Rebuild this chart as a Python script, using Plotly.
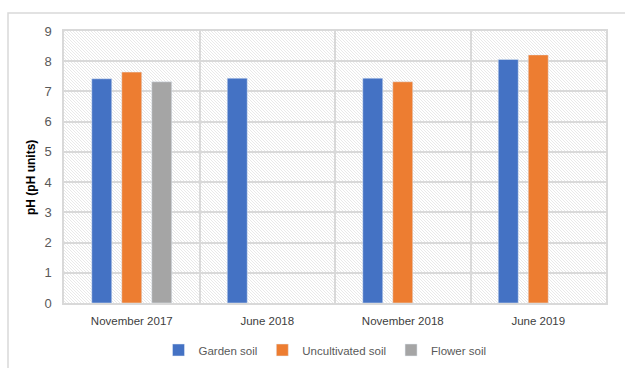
import base64
import plotly.graph_objects as go

categories = ["November 2017", "June 2018", "November 2018", "June 2019"]
garden_soil = [7.42, 7.44, 7.44, 8.06]
uncultivated_soil = [7.64, None, 7.32, 8.21]
flower_soil = [7.32, None, None, None]
y_ticks = [0, 1, 2, 3, 4, 5, 6, 7, 8, 9]

FONT = "Liberation Sans, Arial, sans-serif"
TXT = "#595959"
GRID = "#d9d9d9"

W, H = 625, 368
L, R, T, B = 64, 19, 31, 65
pw, ph = W - L - R, H - T - B

# hatch background as svg pattern
svg = (
    f'<svg xmlns="http://www.w3.org/2000/svg" width="{pw}" height="{ph}">'
    '<defs><pattern id="p" width="3" height="3" patternUnits="userSpaceOnUse">'
    '<rect width="3" height="3" fill="#ffffff"/>'
    '<path d="M-1,-1 L4,4 M-1,2 L1,4 M2,-1 L4,1" stroke="#e6e6e6" stroke-width="0.9"/>'
    '</pattern></defs>'
    f'<rect width="{pw}" height="{ph}" fill="url(#p)"/></svg>'
)
src = "data:image/svg+xml;base64," + base64.b64encode(svg.encode()).decode()

fig = go.Figure()
fig.add_bar(name="Garden soil", x=categories, y=garden_soil, marker_color="#4472C4")
fig.add_bar(name="Uncultivated soil", x=categories, y=uncultivated_soil, marker_color="#ED7D31")
fig.add_bar(name="Flower soil", x=categories, y=flower_soil, marker_color="#A5A5A5")

fig.update_layout(
    width=W, height=H,
    margin=dict(l=L, r=R, t=T, b=B, autoexpand=False),
    paper_bgcolor="white",
    plot_bgcolor="rgba(0,0,0,0)",
    barmode="group",
    bargap=0.336,
    bargroupgap=1/3,
    font=dict(family=FONT, size=12, color=TXT),
    showlegend=True,
    legend=dict(orientation="h", x=(325 - L) / pw, xanchor="center",
                y=(T + ph - 350) / ph, yanchor="middle",
                font=dict(size=11.5, color=TXT), itemwidth=30,
                traceorder="normal"),
    images=[dict(source=src, xref="paper", yref="paper", x=0, y=1,
                 sizex=1, sizey=1, sizing="stretch", layer="below",
                 xanchor="left", yanchor="top")],
    shapes=[dict(type="rect", xref="paper", yref="paper",
                 x0=(8 - L) / pw, x1=(640 - L) / pw,
                 y0=(T + ph - 380) / ph, y1=(T + ph - 13) / ph,
                 line=dict(color="#d9d9d9", width=1.5), layer="below")],
    annotations=[dict(text="<b>pH (pH units)</b>", xref="paper", yref="paper",
                      x=(31 - L) / pw, y=(T + ph - 178) / ph, textangle=-90,
                      showarrow=False, font=dict(size=12, color="#000000",
                                                 family="Liberation Sans, Arial, sans-serif"),
                      xanchor="center", yanchor="middle")],
)
fig.update_xaxes(type="category", tickson="boundaries", showgrid=True,
                 gridcolor=GRID, gridwidth=1.5, ticks="", showline=True,
                 linecolor=GRID, linewidth=1.5, mirror=True,
                 ticklabelstandoff=6, tickfont=dict(size=11.5, color="#404040"))
fig.update_yaxes(range=[0, 9], tickvals=y_ticks, showgrid=True, gridcolor=GRID,
                 gridwidth=1.5, zeroline=False, showline=True, linecolor=GRID,
                 linewidth=1.5, mirror=True, ticks="", ticklabelstandoff=8,
                 tickfont=dict(size=13, color=TXT))

fig.write_html("out.html")
